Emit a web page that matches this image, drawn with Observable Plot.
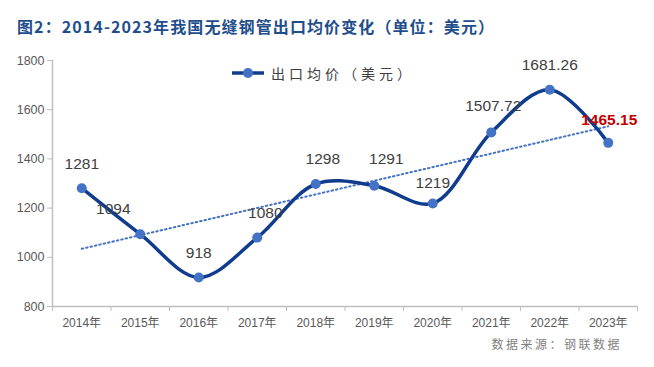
<!DOCTYPE html>
<html>
<head>
<meta charset="utf-8">
<script src="https://cdn.jsdelivr.net/npm/d3@7"></script>
<script src="https://cdn.jsdelivr.net/npm/@observablehq/plot@0.6"></script>
<style>
  html, body { margin: 0; padding: 0; background: #fff; }
  #wrap { position: relative; width: 654px; height: 367px; font-family: "Liberation Sans", "Noto Sans CJK SC", sans-serif; }
  #title { position: absolute; left: 17px; top: 14px; font-family: "Noto Sans CJK SC", sans-serif; font-weight: bold; font-size: 16px; color: #1f4e8c; letter-spacing: 1.1px; }
  #chart { position: absolute; left: 0; top: 46px; }
  #legend { position: absolute; left: 231px; top: 63px; display: flex; align-items: center; font-family: "Noto Sans CJK SC", sans-serif; font-size: 14px; color: #404040; letter-spacing: 4px; }
  #source { position: absolute; right: 32px; top: 335px; font-family: "Noto Sans CJK SC", sans-serif; font-size: 12px; color: #7f7f7f; letter-spacing: 2.5px; }
</style>
</head>
<body>
<div id="wrap">
  <div id="title">图2：2014-2023年我国无缝钢管出口均价变化（单位：美元）</div>
  <div id="chart"></div>
  <div id="legend"><svg width="34" height="14" style="margin-right:6px"><line x1="1" y1="7" x2="33" y2="7" stroke="#0f3c8c" stroke-width="3.5"/><circle cx="17" cy="7" r="5" fill="#4472c4"/></svg>出口均价（美元）</div>
  <div id="source">数据来源：钢联数据</div>
</div>
<script>
const years = ["2014年","2015年","2016年","2017年","2018年","2019年","2020年","2021年","2022年","2023年"];
const prices = [1281, 1094, 918, 1080, 1298, 1291, 1219, 1507.72, 1681.26, 1465.15];
const priceLabels = ["1281","1094","918","1080","1298","1291","1219","1507.72","1681.26","1465.15"];
const yTicks = [800, 1000, 1200, 1400, 1600, 1800];

const idx = d3.range(years.length);
const boundaries = d3.range(years.length + 1).map(i => i - 0.5);
const labelDx = [0, -27, 0, 8, 7, 12, 0, 2, 0, 1];
const labelDy = [-24, -25, -24, -25, -25, -27, -20, -26, -25, -23];
const last = years.length - 1;

const chart = Plot.plot({
  width: 654,
  height: 321,
  marginLeft: 52,
  marginRight: 17,
  marginTop: 14,
  marginBottom: 61,
  style: { fontFamily: "Liberation Sans, Noto Sans CJK SC, sans-serif", background: "transparent" },
  x: { type: "linear", domain: [-0.5, 9.5], axis: null },
  y: { domain: [800, 1800], axis: null },
  marks: [
    Plot.ruleX([-0.5], { stroke: "#bfbfbf", strokeWidth: 1.5 }),
    Plot.ruleY([800], { stroke: "#bfbfbf", strokeWidth: 1.5 }),
    Plot.axisY({ ticks: yTicks, tickSize: 5, stroke: "#bfbfbf", fill: "#595959", fontSize: 12.5, tickPadding: 3, tickFormat: d => String(d) }),
    Plot.axisX({ ticks: boundaries, tickSize: 5, stroke: "#bfbfbf", tickFormat: () => "" }),
    Plot.axisX({ ticks: idx, tickSize: 0, tickPadding: 12, tickFormat: i => years[i], fill: "#595959", fontSize: 12 }),
    Plot.linearRegressionY(idx, { x: i => i, y: i => prices[i], stroke: "#4472c4", strokeWidth: 2, strokeDasharray: "1.5 3", ci: 0 }),
    Plot.line(idx, { x: i => i, y: i => prices[i], curve: "catmull-rom", stroke: "#0f3c8c", strokeWidth: 3.5 }),
    Plot.dot(idx, { x: i => i, y: i => prices[i], r: 5, fill: "#4472c4" }),
    Plot.text(idx.filter(i => i !== last), { x: i => i, y: i => prices[i], text: i => priceLabels[i], fill: "#404040", fontSize: 15.5 }),
    Plot.text([last], { x: i => i, y: i => prices[i], text: i => priceLabels[i], fill: "#c00000", fontWeight: "bold", fontSize: 15.5 })
  ]
});

document.getElementById("chart").appendChild(chart);
// apply per-label offsets
const textGroups = chart.querySelectorAll("g[aria-label='text']");
textGroups.forEach((g, gi) => {
  g.querySelectorAll("text").forEach((t, k) => {
    const i = gi === 0 ? idx.filter(j => j !== last)[k] : last;
    const tr = t.getAttribute("transform") || "";
    t.setAttribute("transform", tr + ` translate(${labelDx[i]},${labelDy[i]})`);
  });
});
</script>
</body>
</html>
